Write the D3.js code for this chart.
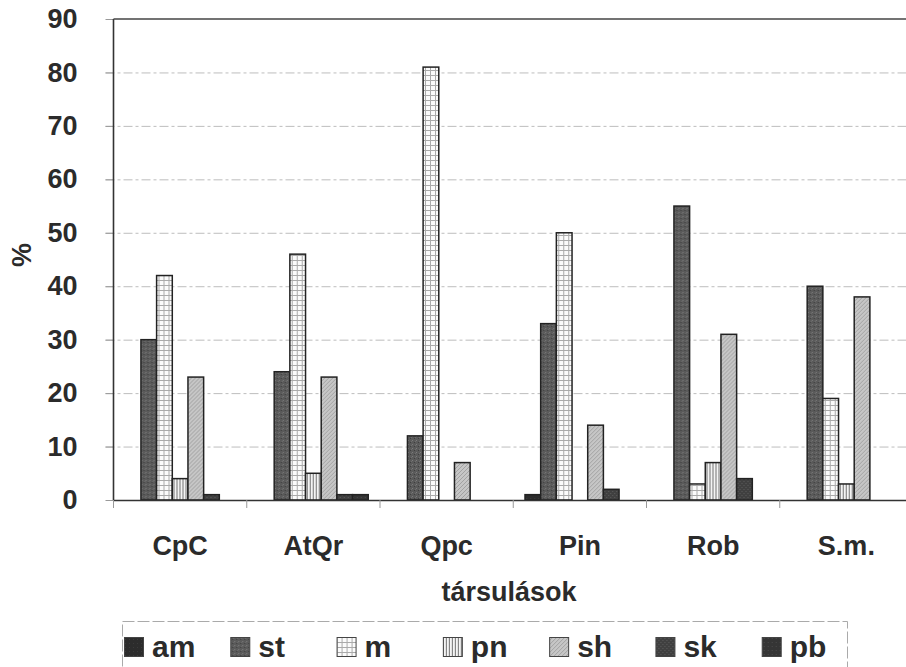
<!DOCTYPE html>
<html>
<head>
<meta charset="utf-8">
<script src="https://cdn.jsdelivr.net/npm/d3@7"></script>
<style>
  html, body { margin: 0; padding: 0; background: #fff; }
  svg { display: block; font-family: "Liberation Sans", Arial, sans-serif; }
</style>
</head>
<body>
<svg id="chart" width="906" height="667"></svg>
<script>
// ---- data ----
const categories = ["CpC", "AtQr", "Qpc", "Pin", "Rob", "S.m."];
const seriesNames = ["am", "st", "m", "pn", "sh", "sk", "pb"];
const am = [0, 0, 0, 1, 0, 0];
const st = [30, 24, 12, 33, 55, 40];
const m  = [42, 46, 81, 50, 3, 19];
const pn = [4, 5, 0, 0, 7, 3];
const sh = [23, 23, 7, 14, 31, 38];
const sk = [1, 1, 0, 2, 4, 0];
const pb = [0, 1, 0, 0, 0, 0];
const yTicks = [0, 10, 20, 30, 40, 50, 60, 70, 80, 90];
const yLabel = "%";
const xLabel = "társulások";

const seriesValues = { am, st, m, pn, sh, sk, pb };

// ---- layout ----
const svg = d3.select("#chart");
const plot = { left: 113.5, right: 913, top: 19, bottom: 500 };
const textColor = "#2b2b2b";

// ---- patterns ----
const defs = svg.append("defs");
function pat(id, w, h, build) {
  const p = defs.append("pattern").attr("id", id).attr("patternUnits", "userSpaceOnUse")
    .attr("width", w).attr("height", h);
  build(p);
}
pat("p-am", 4, 4, p => {
  p.append("rect").attr("width", 4).attr("height", 4).attr("fill", "#2c2c2c");
  p.append("rect").attr("x", 1).attr("y", 2).attr("width", 1).attr("height", 1).attr("fill", "#3a3a3a");
});
pat("p-st", 4, 4, p => {
  p.append("rect").attr("width", 4).attr("height", 4).attr("fill", "#5a5a5a");
  p.append("rect").attr("x", 0).attr("y", 0).attr("width", 1).attr("height", 1).attr("fill", "#7c7c7c");
  p.append("rect").attr("x", 2).attr("y", 2).attr("width", 1).attr("height", 1).attr("fill", "#3e3e3e");
  p.append("rect").attr("x", 3).attr("y", 1).attr("width", 1).attr("height", 1).attr("fill", "#6e6e6e");
});
pat("p-m", 5, 5, p => {
  p.append("rect").attr("width", 5).attr("height", 5).attr("fill", "#fbfbfb");
  p.append("path").attr("d", "M0,0.5H5M0.5,0V5").attr("stroke", "#aaaaaa").attr("stroke-width", 1);
});
pat("p-pn", 3, 3, p => {
  p.append("rect").attr("width", 3).attr("height", 3).attr("fill", "#f4f4f4");
  p.append("path").attr("d", "M0.5,0V3").attr("stroke", "#727272").attr("stroke-width", 1);
});
pat("p-sh", 4, 4, p => {
  p.append("rect").attr("width", 4).attr("height", 4).attr("fill", "#c6c6c6");
  p.append("path").attr("d", "M0,4L4,0M-1,1L1,-1M3,5L5,3").attr("stroke", "#999").attr("stroke-width", 0.8);
});
pat("p-sk", 4, 4, p => {
  p.append("rect").attr("width", 4).attr("height", 4).attr("fill", "#404040");
  p.append("rect").attr("x", 1).attr("y", 1).attr("width", 1).attr("height", 1).attr("fill", "#5c5c5c");
  p.append("rect").attr("x", 3).attr("y", 3).attr("width", 1).attr("height", 1).attr("fill", "#5c5c5c");
});
pat("p-pb", 4, 4, p => {
  p.append("rect").attr("width", 4).attr("height", 4).attr("fill", "#353535");
  p.append("rect").attr("x", 2).attr("y", 1).attr("width", 1).attr("height", 1).attr("fill", "#4a4a4a");
});

// ---- scales ----
const y = d3.scaleLinear().domain([0, 90]).range([plot.bottom, plot.top]);
const x0 = d3.scaleBand().domain(categories).range([plot.left, plot.right]).paddingInner(0).paddingOuter(0);
const x1 = d3.scaleBand().domain(seriesNames).range([0, x0.bandwidth()]).paddingInner(0).paddingOuter(0.75);

// ---- gridlines ----
const grid = svg.append("g");
grid.selectAll("line").data(yTicks.filter(t => t > 0 && t < 90)).join("line")
  .attr("x1", plot.left - 8).attr("x2", plot.right)
  .attr("y1", d => y(d) + 0.5).attr("y2", d => y(d) + 0.5)
  .attr("stroke", "#bdbdbd").attr("stroke-width", 1)
  .attr("stroke-dasharray", "9 3 3 3");

// ---- bars ----
const groups = svg.append("g").selectAll("g").data(categories).join("g")
  .attr("transform", d => `translate(${x0(d)},0)`);
groups.selectAll("rect")
  .data((c, i) => seriesNames.map(s => ({ s, v: seriesValues[s][i] })).filter(d => d.v > 0))
  .join("rect")
  .attr("x", d => x1(d.s))
  .attr("y", d => y(d.v))
  .attr("width", x1.bandwidth())
  .attr("height", d => y(0) - y(d.v))
  .attr("fill", d => `url(#p-${d.s})`)
  .attr("stroke", "#222")
  .attr("stroke-width", 1.5);

// ---- axes ----
const yAxis = svg.append("g").attr("transform", `translate(${plot.left},0)`)
  .call(d3.axisLeft(y).tickValues(yTicks).tickSize(8).tickPadding(28));
yAxis.select(".domain").remove();
yAxis.selectAll(".tick line").attr("stroke", "#999");
yAxis.selectAll(".tick text")
  .attr("font-size", 27).attr("font-weight", "bold").attr("fill", textColor)
  .attr("font-family", "'Liberation Sans', Arial, sans-serif");

// frame: left axis line, top line
svg.append("line").attr("x1", plot.left).attr("x2", plot.left).attr("y1", plot.top).attr("y2", plot.bottom)
  .attr("stroke", "#333").attr("stroke-width", 1.6);
svg.append("line").attr("x1", plot.left).attr("x2", plot.right).attr("y1", plot.top).attr("y2", plot.top)
  .attr("stroke", "#444").attr("stroke-width", 1.6);

const xAxis = svg.append("g").attr("transform", `translate(0,${plot.bottom})`)
  .call(d3.axisBottom(x0).tickSize(0).tickPadding(36));
xAxis.select(".domain").attr("stroke", "#333").attr("stroke-width", 1.6);
xAxis.selectAll(".tick text")
  .attr("font-size", 27).attr("font-weight", "bold").attr("fill", textColor)
  .attr("font-family", "'Liberation Sans', Arial, sans-serif");
// category boundary ticks
const boundaries = categories.map(c => x0(c));
svg.append("g").selectAll("line").data(boundaries).join("line")
  .attr("x1", d => d).attr("x2", d => d)
  .attr("y1", plot.bottom).attr("y2", plot.bottom + 8)
  .attr("stroke", "#999").attr("stroke-width", 1);

// ---- axis titles ----
svg.append("text")
  .attr("transform", `translate(31,255) rotate(-90)`)
  .attr("text-anchor", "middle")
  .attr("font-size", 27).attr("font-weight", "bold").attr("fill", textColor)
  .text(yLabel);
svg.append("text")
  .attr("x", 509).attr("y", 601)
  .attr("text-anchor", "middle")
  .attr("font-size", 27).attr("font-weight", "bold").attr("fill", textColor)
  .text(xLabel);

// ---- legend ----
const legend = svg.append("g");
legend.append("rect").attr("x", 122.5).attr("y", 621.5).attr("width", 725).attr("height", 70)
  .attr("fill", "none").attr("stroke", "#aaa").attr("stroke-width", 1).attr("stroke-dasharray", "12 3");
const lx = d3.scaleBand().domain(seriesNames).range([124, 868]).paddingInner(0).paddingOuter(0);
const items = legend.selectAll("g.item").data(seriesNames).join("g").attr("class", "item")
  .attr("transform", d => `translate(${lx(d)},637)`);
items.append("rect").attr("x", 0.5).attr("y", 0.5).attr("width", 19).attr("height", 19)
  .attr("fill", d => `url(#p-${d})`).attr("stroke", "#444").attr("stroke-width", 1);
items.append("text").attr("x", 28).attr("y", 20)
  .attr("font-size", 30).attr("font-weight", "bold").attr("fill", textColor)
  .text(d => d);
</script>
</body>
</html>
